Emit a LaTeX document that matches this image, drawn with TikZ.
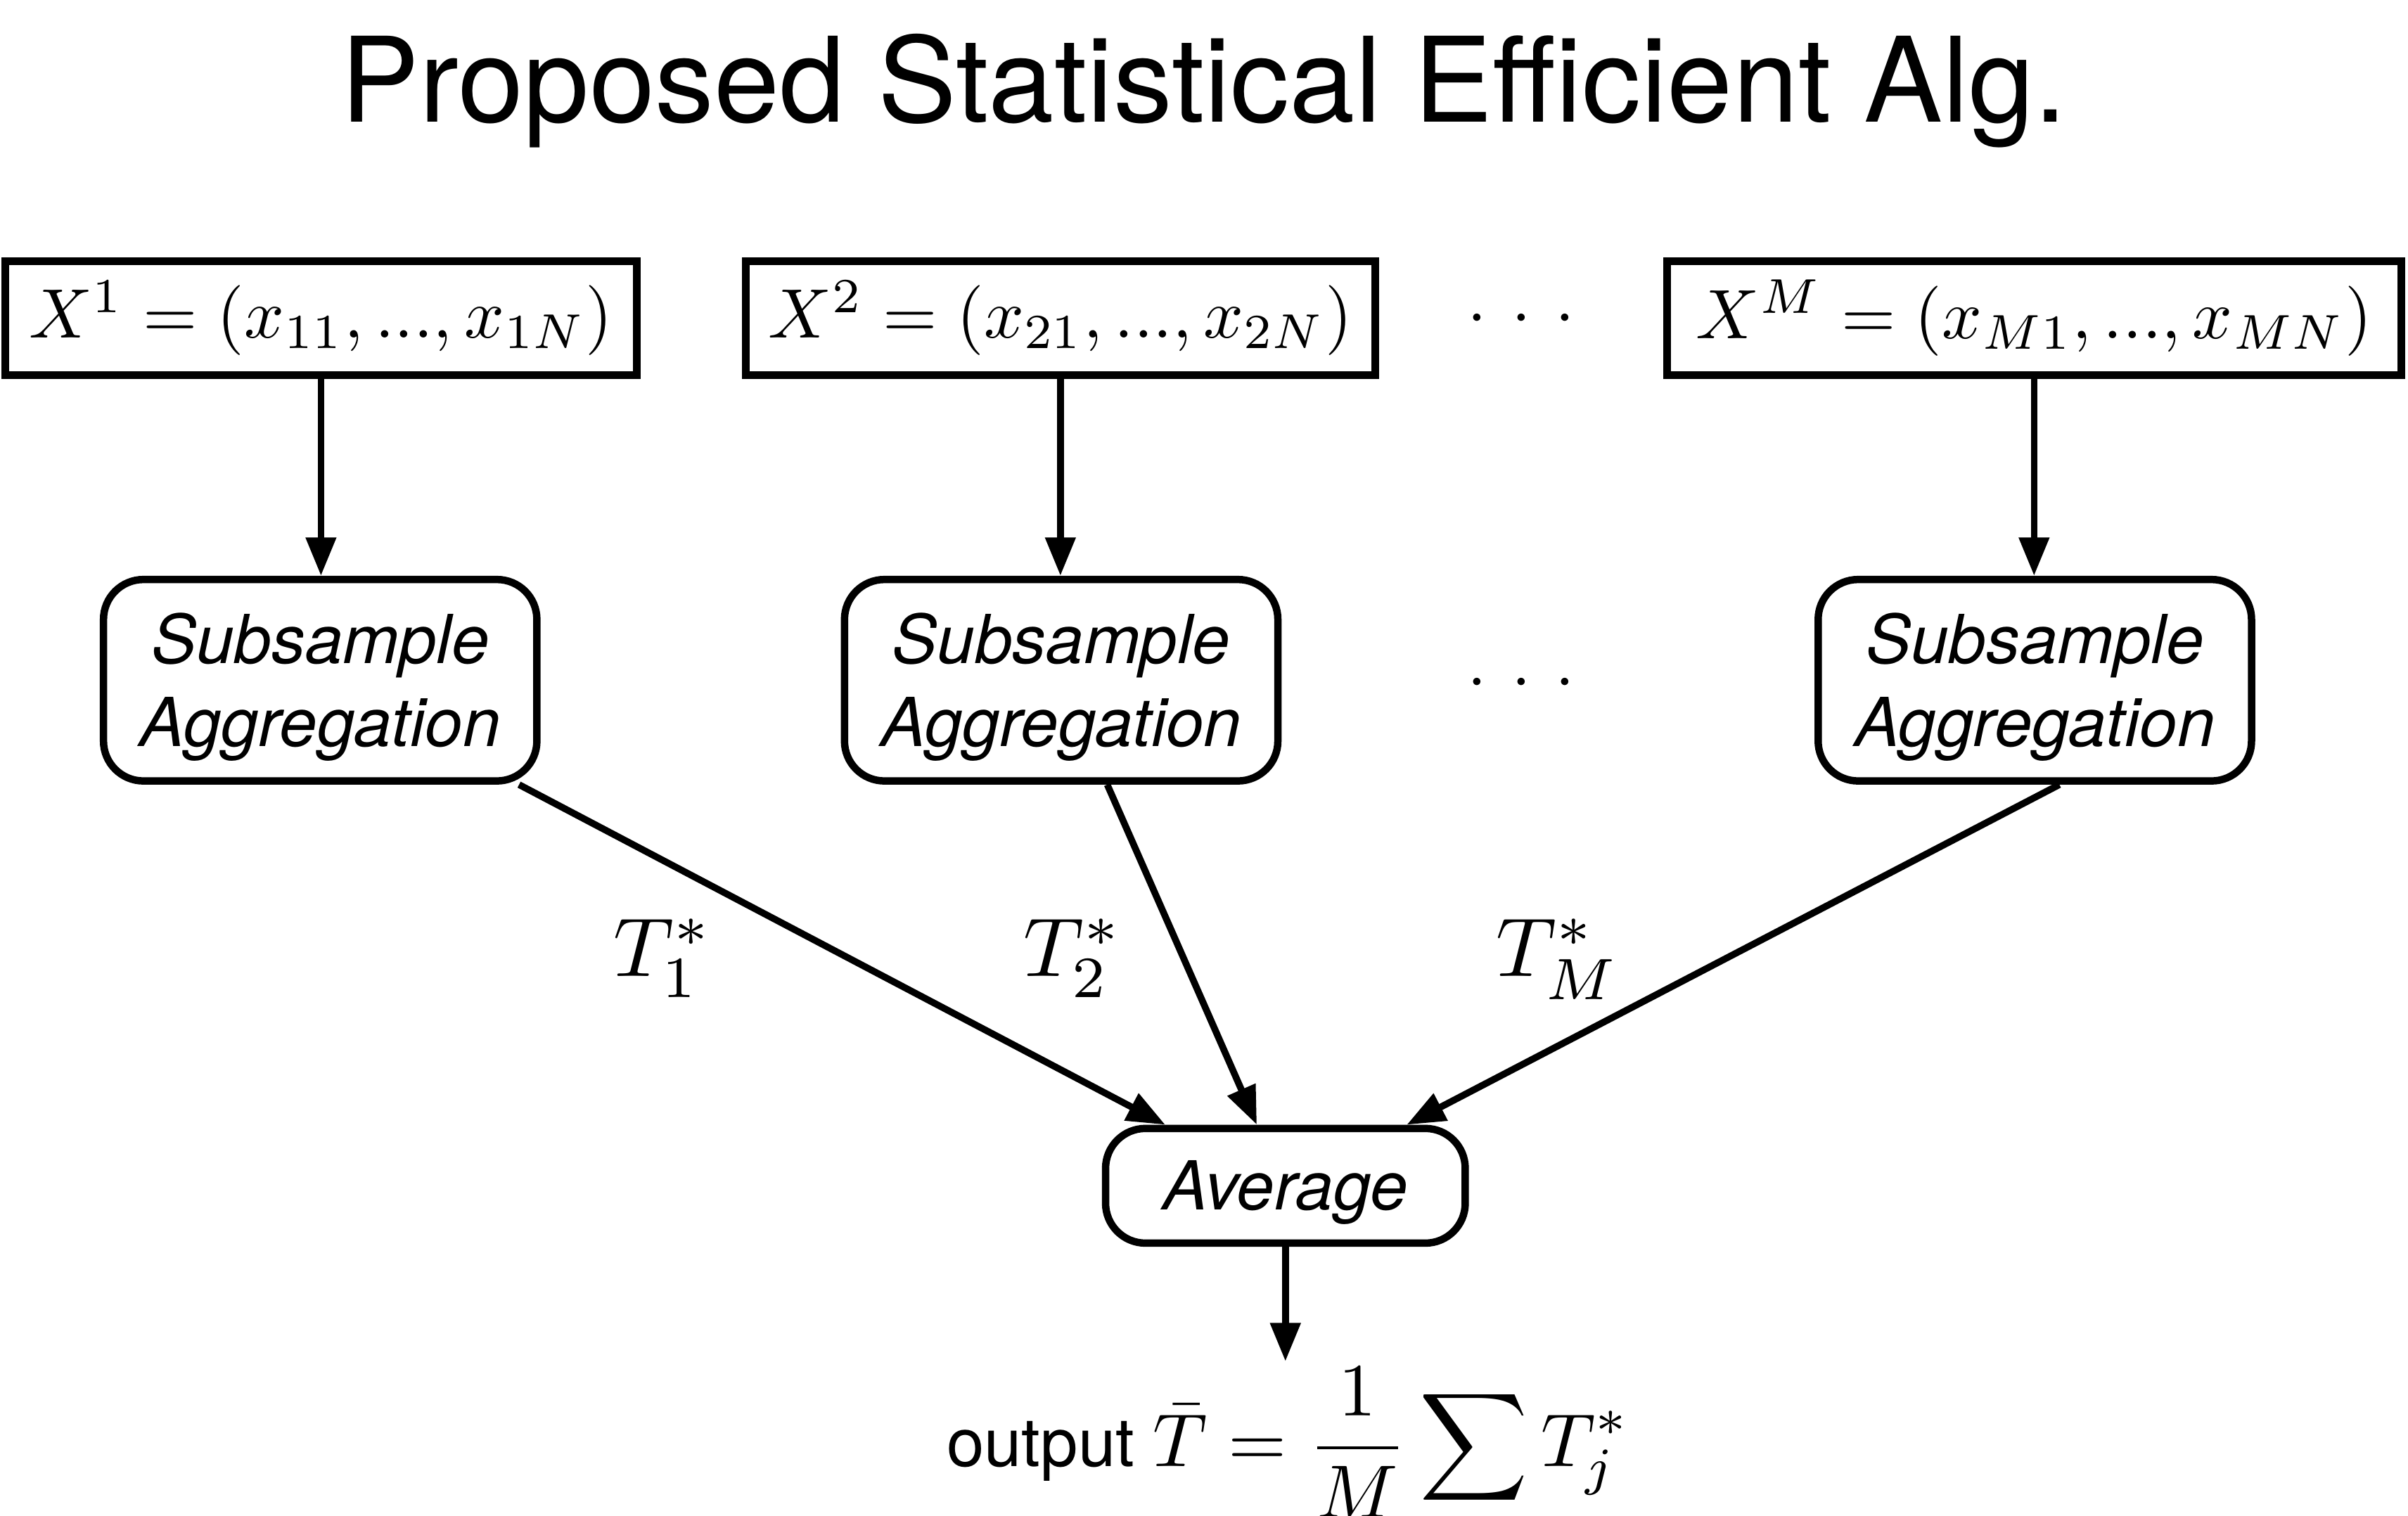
\documentclass[tikz,border=0pt]{standalone}
\usepackage{graphicx}
\usepackage{fontspec}
\setsansfont{TeX Gyre Heros}
\usetikzlibrary{arrows.meta,calc}
\newcommand\boxmath[1]{\scalebox{2.28}{\normalsize$#1$}}
\newcommand\lblmath[1]{\scalebox{2.72}{\normalsize$#1$}}
\newcommand\outmath[1]{\scalebox{2.45}{\normalsize$\displaystyle #1$}}
\newcommand\figtext{\sffamily\fontsize{22}{27}\selectfont}
\begin{document}
\begin{tikzpicture}[x=0.5pt,y=-0.5pt,
  databox/.style={draw,line width=2.5pt,inner sep=0pt,minimum width=#1,minimum height=37pt},
  procbox/.style={draw,line width=2.4pt,rounded corners=13pt,inner sep=0pt,align=center,font=\figtext\itshape},
  arr/.style={line width=2.2pt,-{Triangle[length=12.5pt,width=9.5pt]}},
  lbl/.style={anchor=base west,inner sep=0pt}]
\useasboundingbox (0,0) rectangle (1568,987);
\node[anchor=base,inner sep=0pt,font=\sffamily\fontsize{38.4}{46}\selectfont] (title) at (784,79.4) {Proposed Statistical Efficient Alg.};
\node[databox=205.5pt] (d1) at (209,207.1) {\boxmath{X^1 = (x_{11}, ..., x_{1N})}};
\node[databox=205pt] (d2) at (690.5,207.1) {\boxmath{X^2 = (x_{21}, ..., x_{2N})}};
\node[databox=239pt] (d3) at (1324.5,207.1) {\boxmath{X^M = (x_{M1}, ..., x_{MN})}};
\node[anchor=base,inner sep=0pt] (dotsa) at (990.5,218) {\boxmath{{\cdotp}\kern3.47pt{\cdotp}\kern3.47pt{\cdotp}}};
\node[procbox,minimum width=141.1pt,minimum height=65.6pt] (s1) at (208.5,443) {\rule{0pt}{21pt}Subsample\\Aggregation\rule[-5pt]{0pt}{5pt}};
\node[procbox,minimum width=141.1pt,minimum height=65.6pt] (s2) at (691,443) {\rule{0pt}{21pt}Subsample\\Aggregation\rule[-5pt]{0pt}{5pt}};
\node[procbox,minimum width=141.1pt,minimum height=65.6pt] (s3) at (1325,443) {\rule{0pt}{21pt}Subsample\\Aggregation\rule[-5pt]{0pt}{5pt}};
\node[anchor=base,inner sep=0pt] (dotsb) at (990.5,455.5) {\boxmath{{\cdotp}\kern3.47pt{\cdotp}\kern3.47pt{\cdotp}}};
\node[procbox,minimum width=117.1pt,minimum height=37.35pt] (avg) at (837,772.25) {\rule[-5pt]{0pt}{25.6pt}Average};
\coordinate (outtip) at (837,886.6);
\node[lbl] (t1) at (399,636) {\lblmath{T_1^*}};
\node[lbl] (t2) at (666,636) {\lblmath{T_2^*}};
\node[lbl] (t3) at (974,636) {\lblmath{T_M^*}};
\node[anchor=base west,inner sep=0pt,font=\figtext] (out) at (616,955) {output \outmath{\bar{T} = \frac{1}{M}\sum T_j^*}};
\draw[arr] (d1.south) -- (d1.south |- s1.north);
\draw[arr] (d2.south) -- (d2.south |- s2.north);
\draw[arr] (d3.south) -- (d3.south |- s3.north);
\draw[arr] ([xshift=64.75pt]s1.south) -- ([xshift=-39.1pt]avg.north);
\draw[arr] ([xshift=15pt]s2.south) -- ([xshift=-9.3pt]avg.north);
\draw[arr] ([xshift=8pt]s3.south) -- ([xshift=39.5pt]avg.north);
\draw[arr] (avg.south) -- (outtip);
\end{tikzpicture}
\end{document}
